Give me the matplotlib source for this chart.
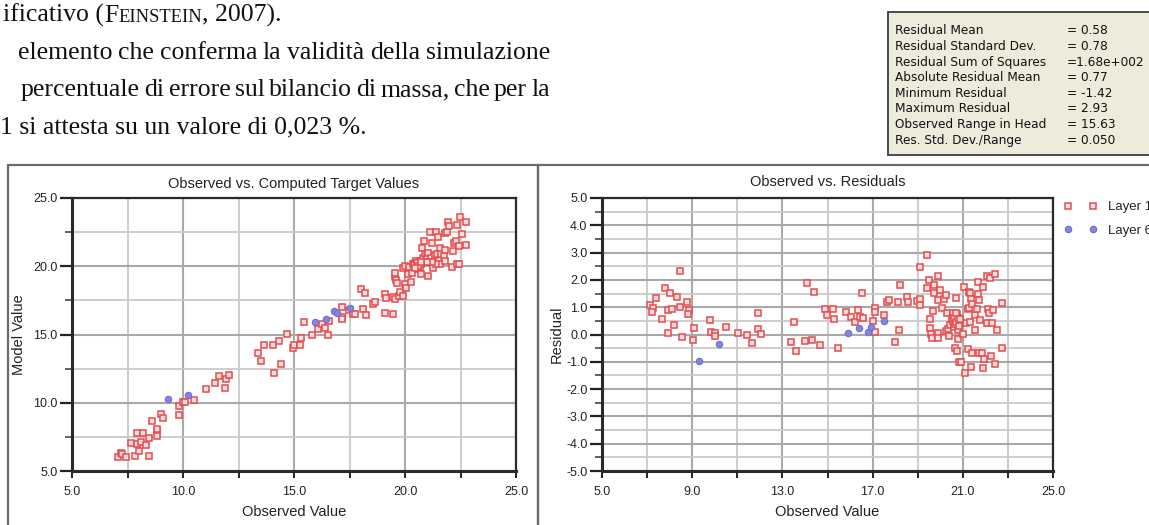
import matplotlib
matplotlib.use("Agg")
import matplotlib.pyplot as plt
from matplotlib.patches import Rectangle
from matplotlib.ticker import FormatStrFormatter

# ---------------- data ----------------
# Observed vs. Computed (left panel), Layer 1
left_obs_l1 = [7.09, 7.20, 7.26, 7.43, 7.64, 7.82, 7.95, 7.91, 8.02, 8.10,
               8.22, 8.33, 8.49, 8.47, 8.60, 8.81, 8.83, 8.84, 9.03, 9.11,
               9.81, 9.81, 10.02, 10.09, 10.49, 11.05, 11.43, 11.64, 11.88, 11.93,
               12.05, 13.40, 13.53, 13.64, 14.04, 14.12, 14.33, 14.43, 14.69, 14.95,
               14.98, 15.26, 15.33, 15.47, 15.82, 16.09, 16.27, 16.40, 16.55, 16.57,
               17.14, 17.14, 17.14, 17.48, 17.67, 17.76, 18.02, 18.13, 18.21, 18.26,
               18.57, 18.63, 19.11, 19.11, 19.16, 19.47, 19.45, 19.54, 19.57, 19.57,
               19.60, 19.65, 19.73, 19.78, 19.91, 19.93, 20.01, 20.04, 19.98, 20.12,
               20.20, 20.27, 20.30, 20.35, 20.43, 20.47, 20.50, 20.55, 20.58, 20.63,
               20.66, 20.69, 20.74, 20.74, 20.78, 20.81, 20.84, 20.89, 20.97, 21.05,
               21.05, 21.12, 21.15, 21.20, 21.25, 21.28, 21.33, 21.40, 21.43, 21.47,
               21.56, 21.59, 21.64, 21.74, 21.78, 21.78, 21.82, 21.90, 21.94, 21.98,
               22.13, 22.18, 22.21, 22.29, 22.33, 22.36, 22.41, 22.44, 22.49, 22.57,
               22.75, 22.75, 21.40, 21.20, 20.97, 20.40, 20.52, 20.60, 20.70, 20.45]
left_mod_l1 = [6.00, 6.35, 6.23, 6.05, 7.03, 6.10, 7.82, 6.96, 6.50, 7.16,
               7.82, 6.89, 7.40, 6.08, 8.68, 7.94, 7.60, 8.06, 9.17, 8.87,
               9.12, 9.73, 10.05, 10.05, 10.20, 10.98, 11.42, 11.94, 11.10, 11.76,
               12.00, 13.63, 13.09, 14.22, 14.22, 12.18, 14.53, 12.84, 15.02, 14.02,
               14.24, 14.26, 14.76, 15.93, 14.98, 15.42, 15.74, 15.44, 15.00, 15.98,
               17.01, 16.30, 16.10, 16.76, 16.47, 16.47, 18.36, 16.89, 18.06, 16.40,
               17.21, 17.38, 16.59, 17.94, 17.70, 16.52, 17.77, 17.57, 19.24, 19.51,
               18.99, 18.75, 17.82, 18.11, 17.79, 19.85, 18.68, 18.38, 20.05, 19.41,
               19.95, 18.87, 19.53, 20.20, 20.27, 20.05, 20.39, 20.02, 19.78, 20.20,
               19.95, 20.39, 20.15, 19.41, 21.32, 20.59, 21.86, 20.88, 20.76, 19.29,
               21.00, 22.48, 20.59, 21.67, 19.90, 20.34, 20.83, 22.48, 20.88, 22.11,
               21.37, 20.15, 20.88, 20.76, 21.18, 22.40, 20.39, 22.48, 23.21, 22.97,
               19.95, 21.13, 21.67, 21.86, 23.04, 20.15, 21.50, 20.20, 23.58, 22.35,
               23.21, 21.54, 20.20, 20.34, 20.34, 20.10, 20.22, 20.05, 20.28, 19.90]
# Layer 6
left_obs_l6 = [9.34, 10.22, 15.93, 16.44, 16.81, 16.94, 17.53]
left_mod_l6 = [10.29, 10.54, 15.88, 16.15, 16.72, 16.60, 16.96]

# Observed vs. Residuals (right panel), Layer 1
res_obs_l1 = [7.12, 7.24, 7.21, 7.41, 7.64, 7.81, 7.93, 8.03, 8.10, 7.93,
              8.21, 8.31, 8.45, 8.48, 8.55, 8.79, 8.84, 8.83, 9.02, 9.09,
              9.79, 9.83, 10.02, 10.02, 10.48, 11.05, 11.43, 11.64, 11.90, 11.90,
              12.03, 13.38, 13.53, 13.62, 14.10, 14.02, 14.31, 14.41, 14.66, 14.91,
              14.97, 15.26, 15.31, 15.45, 15.81, 16.03, 16.21, 16.34, 16.43, 16.52,
              16.57, 17.00, 17.10, 17.10, 17.10, 17.50, 17.64, 17.72, 17.98, 18.14,
              18.21, 18.19, 18.52, 18.59, 18.98, 19.10, 19.12, 19.12, 19.43, 19.43,
              19.52, 19.53, 19.53, 19.59, 19.62, 19.67, 19.71, 19.71, 19.90, 19.90,
              19.97, 19.90, 19.90, 20.09, 20.17, 20.26, 20.26, 20.31, 20.34, 20.38,
              20.45, 20.52, 20.57, 20.59, 20.62, 20.66, 20.69, 20.72, 20.76, 20.76,
              20.79, 20.79, 20.83, 20.90, 21.00, 21.05, 21.09, 21.14, 21.21, 21.21,
              21.26, 21.28, 21.31, 21.34, 21.38, 21.41, 21.43, 21.38, 21.52, 21.55,
              21.64, 21.66, 21.69, 21.72, 21.74, 21.78, 21.84, 21.90, 21.91, 21.95,
              22.09, 22.12, 22.07, 22.17, 22.21, 22.24, 22.29, 22.34, 22.41, 22.45,
              22.52, 22.72, 22.72, 20.55, 20.60, 20.66, 20.72, 20.78, 20.69, 20.83,
              20.86]
res_l1 = [1.08, 0.96, 0.83, 1.34, 0.56, 1.71, 0.91, 1.51, 0.92, 0.07,
          0.33, 1.39, 2.31, 1.02, -0.09, 1.18, 0.90, 0.74, -0.19, 0.22,
          0.53, 0.10, 0.04, -0.07, 0.27, 0.07, -0.01, -0.30, 0.79, 0.19,
          0.01, -0.26, 0.44, -0.62, 1.90, -0.24, -0.21, 1.56, -0.40, 0.94,
          0.73, 0.95, 0.56, -0.50, 0.84, 0.64, 0.47, 0.91, 0.64, 1.53,
          0.61, 0.51, 0.96, 0.84, 0.10, 0.70, 1.20, 1.25, -0.29, 1.19,
          1.82, 0.15, 1.37, 1.18, 1.24, 2.49, 1.31, 1.09, 2.93, 1.70,
          1.99, 0.56, 0.23, 0.02, -0.11, 0.87, 1.51, 1.82, 2.13, 1.28,
          1.62, 0.07, -0.11, 0.96, 1.31, 1.46, 0.12, 0.80, 0.19, -0.05,
          0.34, 0.56, 0.80, 0.44, 0.26, -0.50, 0.56, 1.34, 0.74, -0.60,
          0.16, -0.15, -1.02, -1.02, 0.01, 1.74, -1.42, 0.41, -0.53, 0.92,
          1.56, 0.98, 1.51, 0.46, 1.31, 1.11, -0.69, -1.18, 0.73, 0.15,
          0.92, 1.92, 1.47, -0.66, 1.25, 0.53, -0.66, 1.74, -1.24, -0.91,
          0.41, 0.95, 2.16, 0.80, 2.08, -0.78, 0.41, 0.90, 2.22, -1.08,
          0.15, 1.17, -0.50, 0.50, 0.62, 0.38, 0.45, 0.62, 0.80, 0.32,
          0.55]
# Layer 6
res_obs_l6 = [9.31, 10.21, 15.91, 16.41, 16.81, 16.91, 17.52]
res_l6 = [-0.98, -0.33, 0.04, 0.23, 0.10, 0.26, 0.51]

left_xticks = [5.0, 10.0, 15.0, 20.0, 25.0]
left_yticks = [5.0, 10.0, 15.0, 20.0, 25.0]
right_xticks = [5.0, 9.0, 13.0, 17.0, 21.0, 25.0]
right_yticks = [-5.0, -4.0, -3.0, -2.0, -1.0, 0.0, 1.0, 2.0, 3.0, 4.0, 5.0]
legend_labels = ["Layer 1", "Layer 6"]

stat_names = ["Residual Mean", "Residual Standard Dev.", "Residual Sum of Squares",
              "Absolute Residual Mean", "Minimum Residual", "Maximum Residual",
              "Observed Range in Head", "Res. Std. Dev./Range"]
stat_values = ["= 0.58", "= 0.78", "=1.68e+002", "= 0.77", "= -1.42", "= 2.93",
               "= 15.63", "= 0.050"]

text_line2 = " elemento che conferma la validità della simulazione"
text_line3 = " percentuale di errore sul bilancio di massa, che per la"
text_line4 = "1 si attesta su un valore di 0,023 %."

# ---------------- figure ----------------
W, H = 1149, 525
fig = plt.figure(figsize=(W / 100, H / 100), dpi=100)
fig.patch.set_facecolor("white")


def fx(px):
    return px / W


def fy(py):
    return 1 - py / H


SANS = "Liberation Sans"
SERIF = "Liberation Serif"
RED_E, RED_F = "#e64a4e", "#fbe0e0"
BLUE_E, BLUE_F = "#6e6ed2", "#8585dc"

# panel frames
fig.patches.append(Rectangle((fx(8), fy(540)), fx(538) - fx(8), (540 - 165) / H,
                             transform=fig.transFigure, fill=False,
                             edgecolor="#6a6a6a", lw=1.6))
fig.patches.append(Rectangle((fx(538), fy(540)), fx(1170) - fx(538), (540 - 165) / H,
                             transform=fig.transFigure, fill=False,
                             edgecolor="#6a6a6a", lw=1.6))

# stats box
fig.patches.append(Rectangle((fx(888), fy(155)), fx(1170) - fx(888), (155 - 12) / H,
                             transform=fig.transFigure, facecolor="#edebdc",
                             edgecolor="#4a4a4a", lw=1.4))
for i, (n, v) in enumerate(zip(stat_names, stat_values)):
    yy = 31 + i * 15.6
    fig.text(fx(895), fy(yy), n, fontsize=8.7, family="DejaVu Sans",
             va="center", ha="left", color="#111111")
    fig.text(fx(1067), fy(yy), v, fontsize=8.7, family="DejaVu Sans",
             va="center", ha="left", color="#111111")

# top text
renderer = fig.canvas.get_renderer()
TS = 18.5


def run(pieces, x0, ybase):
    x = x0
    for s, size in pieces:
        t = fig.text(fx(x), fy(ybase), s, fontsize=size, family=SERIF,
                     va="baseline", ha="left", color="#111111")
        x += t.get_window_extent(renderer).width
    return x


def justify(line, x0, x1, ybase, size):
    words = line.split()
    ts = [fig.text(0, fy(ybase), w, fontsize=size, family=SERIF,
                   va="baseline", ha="left", color="#111111") for w in words]
    widths = [t.get_window_extent(renderer).width for t in ts]
    gap = (x1 - x0 - sum(widths)) / (len(words) - 1)
    x = x0
    for t, w in zip(ts, widths):
        t.set_x(fx(x))
        x += w + gap


run([("ificativo (", TS), ("F", TS), ("EINSTEIN", TS * 0.72), (", 2007).", TS)], 3, 22)
justify(text_line2, 18, 550, 59, TS)
justify(text_line3, 21, 550, 96, TS)
run([(text_line4, TS)], 0, 133)

# ---------------- axes ----------------
def style(ax, xmaj, xmin, ymaj, ymin):
    ax.set_xticks(xmaj)
    ax.set_xticks(xmin, minor=True)
    ax.set_yticks(ymaj)
    ax.set_yticks(ymin, minor=True)
    ax.xaxis.set_major_formatter(FormatStrFormatter("%.1f"))
    ax.yaxis.set_major_formatter(FormatStrFormatter("%.1f"))
    ax.grid(which="major", color="#a9a9a9", lw=1.5)
    ax.grid(which="minor", color="#c9c9c9", lw=1.3)
    ax.set_axisbelow(True)
    for s in ax.spines.values():
        s.set_color("#2a2a2a")
        s.set_linewidth(1.6)
    ax.spines["left"].set_linewidth(2.2)
    ax.spines["bottom"].set_linewidth(2.2)
    ax.tick_params(axis="y", which="major", length=8.5, width=1.6, pad=2,
                   labelsize=9, colors="#222222")
    ax.tick_params(axis="y", which="minor", length=5, width=1.3, colors="#555555")
    ax.tick_params(axis="x", which="both", length=5, width=1.4, pad=6,
                   labelsize=9, colors="#222222")
    for lab in ax.get_xticklabels() + ax.get_yticklabels():
        lab.set_family(SANS)


axL = fig.add_axes([fx(72), fy(471), fx(516) - fx(72), (471 - 198) / H])
axL.set_xlim(5, 25)
axL.set_ylim(5, 25)
style(axL, left_xticks, [7.5, 12.5, 17.5, 22.5], left_yticks, [7.5, 12.5, 17.5, 22.5])
axL.plot(left_obs_l1, left_mod_l1, ls="none", marker="s", ms=5, mfc=RED_F,
         mec=RED_E, mew=1.1, clip_on=False)
axL.plot(left_obs_l6, left_mod_l6, ls="none", marker="o", ms=4.6, mfc=BLUE_F,
         mec=BLUE_E, mew=0.8)
axL.set_title("Observed vs. Computed Target Values", family=SANS, fontsize=10.5,
              color="#222222", pad=7)
axL.set_xlabel("Observed Value", family=SANS, fontsize=10.5, color="#222222", labelpad=5)
axL.set_ylabel("Model Value", family=SANS, fontsize=10.5, color="#222222", labelpad=5)

axR = fig.add_axes([fx(602), fy(471), fx(1053) - fx(602), (471 - 198) / H])
axR.set_xlim(5, 25)
axR.set_ylim(-5, 5)
style(axR, right_xticks, [7, 11, 15, 19, 23], right_yticks,
      [-4.5, -3.5, -2.5, -1.5, -0.5, 0.5, 1.5, 2.5, 3.5, 4.5])
h1, = axR.plot(res_obs_l1, res_l1, ls="none", marker="s", ms=5, mfc=RED_F,
               mec=RED_E, mew=1.1)
h2, = axR.plot(res_obs_l6, res_l6, ls="none", marker="o", ms=4.6, mfc=BLUE_F,
               mec=BLUE_E, mew=0.8)
axR.set_title("Observed vs. Residuals", family=SANS, fontsize=10.5,
              color="#222222", pad=9)
axR.set_xlabel("Observed Value", family=SANS, fontsize=10.5, color="#222222", labelpad=5)
axR.set_ylabel("Residual", family=SANS, fontsize=10.5, color="#222222", labelpad=2)

leg = axR.legend([h1, h2], legend_labels, loc="upper left",
                 bbox_to_anchor=(fx(1064), fy(201)), bbox_transform=fig.transFigure,
                 frameon=False, numpoints=2, handlelength=2.5, borderpad=0,
                 borderaxespad=0, labelspacing=0.88, handletextpad=0.8,
                 prop={"family": SANS, "size": 9.5})
for t in leg.get_texts():
    t.set_color("#222222")

fig.savefig("out.png", dpi=100)
